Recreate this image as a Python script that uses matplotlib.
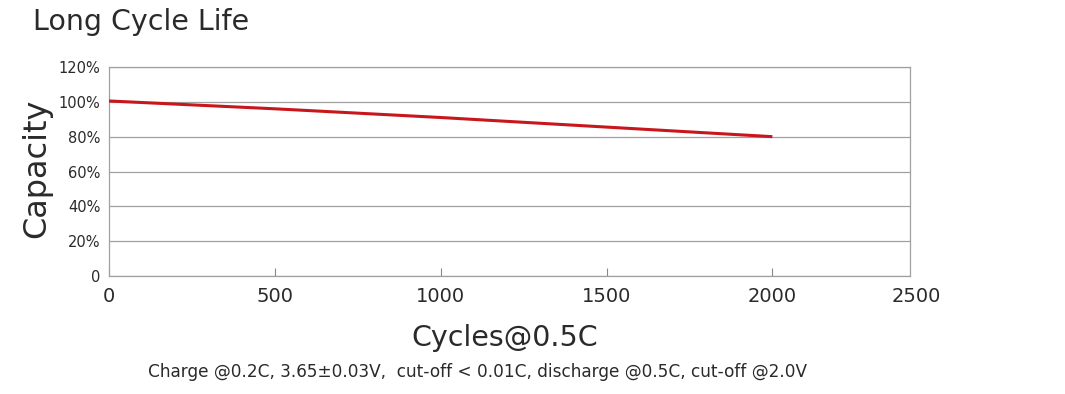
import matplotlib
matplotlib.use("Agg")
import matplotlib.pyplot as plt

cycles = [0, 500, 1000, 1500, 2000]
capacity = [100.5, 96.0, 91.0, 85.5, 80.0]
x_ticks = [0, 500, 1000, 1500, 2000, 2500]
y_ticks = [0, 20, 40, 60, 80, 100, 120]

plt.rcParams['font.family'] = ['DejaVu Sans']
txt = '#2a2a2a'

fig = plt.figure(figsize=(10.65, 3.94), dpi=100)
ax = fig.add_axes([109/1065, 1-276/394, (910-109)/1065, (276-67)/394])

ax.plot(cycles, capacity, color='#c8161d', lw=2.2, solid_capstyle='butt', zorder=3)

ax.set_xlim(0, 2415)
ax.set_ylim(0, 120)
ax.set_yticks(y_ticks)
ax.set_yticklabels(['0'] + [f'{v}%' for v in y_ticks[1:]])
ax.yaxis.grid(True, color='#a0a0a0', lw=0.9)
ax.set_axisbelow(True)
ax.tick_params(axis='y', length=0, pad=6, labelsize=10.5, labelcolor=txt)

shown = [t for t in x_ticks if t <= 2000]
ax.set_xticks(shown)
ax.set_xticklabels([str(t) for t in shown])
ax.tick_params(axis='x', direction='in', length=6, color='#888888', width=0.8,
               pad=8, labelsize=14, labelcolor=txt)
ax.annotate(str(x_ticks[-1]), xy=(x_ticks[-1] - 65, 0),
            xycoords=('data', 'axes fraction'), xytext=(0, -8),
            textcoords='offset points', ha='center', va='top',
            fontsize=14, color=txt, annotation_clip=False)

for s in ax.spines.values():
    s.set_color('#a0a0a0')
    s.set_linewidth(0.9)

fig.text(33/1065, 1-22/394, 'Long Cycle Life', fontsize=20.5, color=txt, va='center', ha='left')
fig.text(37/1065, 1-168/394, 'Capacity', fontsize=23, color=txt, rotation=90,
         va='center', ha='center')
fig.text(505/1065, 1-338/394, 'Cycles@0.5C', fontsize=20.5, color=txt, va='center', ha='center')
fig.text(477/1065, 1-372/394,
         'Charge @0.2C, 3.65\u00b10.03V,  cut-off < 0.01C, discharge @0.5C, cut-off @2.0V',
         fontsize=12.2, color=txt, va='center', ha='center')

fig.savefig('out.png', dpi=100, facecolor='white')
